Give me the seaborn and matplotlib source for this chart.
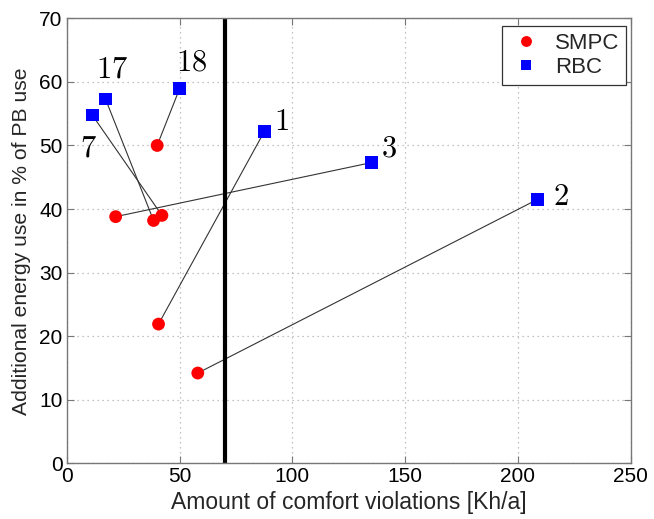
import matplotlib
matplotlib.use("Agg")
import matplotlib.pyplot as plt
import seaborn as sns
import pandas as pd

# Building IDs and results of the two controllers
buildings = ["1", "2", "3", "7", "17", "18"]
rbc_violations = [87.6, 208.6, 135.0, 11.3, 17.2, 50.0]
rbc_energy = [52.2, 41.5, 47.3, 54.8, 57.3, 58.9]
smpc_violations = [40.7, 58.1, 21.7, 42.2, 38.5, 40.1]
smpc_energy = [21.9, 14.2, 38.8, 39.0, 38.2, 50.0]
threshold = 70

# label placement (offset in points from the RBC marker)
label_offsets = {"1": (12, 7), "2": (17, 2), "3": (13, 10),
                 "7": (-3, -24), "17": (5, 21), "18": (9, 19)}

sns.set_theme(style="white")
plt.rcParams["font.family"] = ["Liberation Sans", "DejaVu Sans"]
plt.rcParams["mathtext.fontset"] = "cm"

df = pd.DataFrame({
    "violations": smpc_violations + rbc_violations,
    "energy": smpc_energy + rbc_energy,
    "controller": ["SMPC"] * len(buildings) + ["RBC"] * len(buildings),
})

fig = plt.figure(figsize=(6.54, 5.19), dpi=100)
ax = fig.add_axes([0.102, 0.1073, 0.8624, 0.8574])

# thin lines joining the two results of each building
for i in range(len(buildings)):
    ax.plot([smpc_violations[i], rbc_violations[i]],
            [smpc_energy[i], rbc_energy[i]],
            color="#333333", lw=0.8, zorder=2)

ax.axvline(threshold, color="black", lw=3, zorder=2)

sns.scatterplot(data=df, x="violations", y="energy", hue="controller",
                style="controller",
                palette={"SMPC": "#ff0000", "RBC": "#0000ff"},
                markers={"SMPC": "o", "RBC": "s"},
                s=85, linewidth=0, ax=ax, zorder=3)

for b, x, y in zip(buildings, rbc_violations, rbc_energy):
    dx, dy = label_offsets[b]
    ax.annotate(r"$%s$" % b, (x, y), xytext=(dx, dy), textcoords="offset points",
                ha="center", va="center", fontsize=22, color="black")

ax.set_xlim(0, 250)
ax.set_ylim(0, 70)
ax.set_xticks(range(0, 251, 50))
ax.set_yticks(range(0, 71, 10))
ax.grid(True, color="#b0b0b0", linestyle=(0, (1, 3)), lw=0.9)
ax.tick_params(direction="in", length=5, width=0.8, colors="#777777",
               labelcolor="black", labelsize=15, top=True, right=True,
               bottom=True, left=True, pad=3)
for sp in ax.spines.values():
    sp.set_color("#777777")
    sp.set_linewidth(1.0)

ax.set_xlabel("Amount of comfort violations [Kh/a]", fontsize=16.5, labelpad=3)
ax.set_ylabel("Additional energy use in % of PB use", fontsize=15.2, labelpad=6)

leg = ax.legend(loc="upper right", fontsize=16, frameon=True, fancybox=False,
                edgecolor="#333333", framealpha=1, handletextpad=0.5,
                borderpad=0.3, labelspacing=0.15, markerscale=0.85,
                handlelength=1.6, borderaxespad=0,
                bbox_to_anchor=(0.9917, 0.983))
leg.get_frame().set_linewidth(0.9)

fig.savefig("out.png", dpi=100)
